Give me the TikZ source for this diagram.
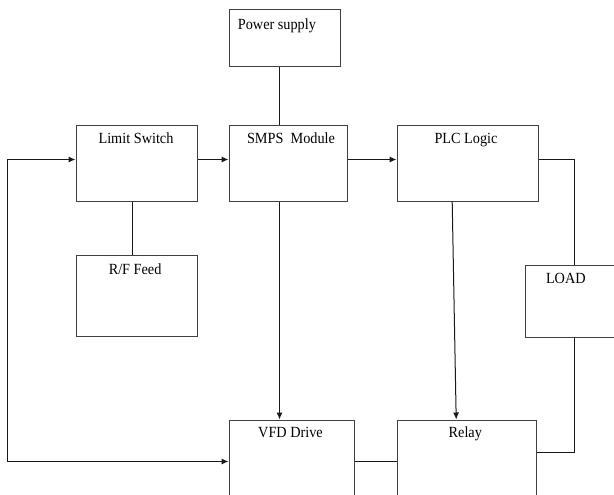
\documentclass[tikz,border=0pt]{standalone}
\usepackage{fontspec}
\setmainfont{Liberation Serif}[FakeStretch=0.92]
\usetikzlibrary{arrows.meta}
\tikzset{
  blk/.style={draw=black!75, line width=1pt, rectangle, inner sep=0pt, anchor=north west},
  lbl/.style={font=\fontsize{15.5}{17}\selectfont, anchor=base, inner sep=0pt, text=black},
  wire/.style={draw=black!90, line width=1pt},
  arr/.style={wire, -{Latex[length=7pt,width=6pt]}}
}
\begin{document}
\begin{tikzpicture}[x=1pt,y=-1pt]
\clip (0,0) rectangle (614,495);
\fill[white] (0,0) rectangle (614,495);
% boxes
\node[blk, minimum width=111pt, minimum height=57pt] (ps) at (228.5,9.5) {};
\node[blk, minimum width=121pt, minimum height=75pt] (ls) at (75.5,125.5) {};
\node[blk, minimum width=118pt, minimum height=75pt] (smps) at (228.5,125.5) {};
\node[blk, minimum width=141pt, minimum height=75pt] (plc) at (396.5,125.5) {};
\node[blk, minimum width=121pt, minimum height=81pt] (rf) at (75.5,254.5) {};
\node[blk, minimum width=100pt, minimum height=72pt] (load) at (524.5,264.5) {};
\node[blk, minimum width=125pt, minimum height=100pt] (vfd) at (228.5,419.5) {};
\node[blk, minimum width=139pt, minimum height=100pt] (relay) at (396.5,419.5) {};
% labels
\node[lbl, anchor=base west] (tps) at (237.7,29.8) {Power supply};
\node[lbl] (tls) at (136,143.3) {Limit Switch};
\node[lbl] (tsmps) at (291,143.3) {SMPS\ \ Module};
\node[lbl] (tplc) at (466,143.8) {PLC Logic};
\node[lbl] (trf) at (135.1,274.3) {R/F Feed};
\node[lbl] (tload) at (565.8,283.7) {LOAD};
\node[lbl] (tvfd) at (290.5,437.3) {VFD Drive};
\node[lbl] (trelay) at (465.3,437.3) {Relay};
% helper coordinates
\coordinate (lpA) at (7.5,159.5);
\coordinate (lpB) at (7.5,461.5);
\coordinate (rtA) at (574.5,159.5);
\coordinate (rtB) at (574.5,452.5);
% connectors
\draw[wire] (ps.south -| 279.5,0) -- (smps.north -| 279.5,0);
\draw[arr] (lpB) -- (lpA) -- (ls.west |- lpA);
\draw[arr] (lpB) -- (vfd.west |- lpB);
\draw[arr] (ls.east |- 0,159.5) -- (smps.west |- 0,159.5);
\draw[arr] (348,159.5) -- (plc.west |- 0,159.5);
\draw[wire] (plc.east |- rtA) -- (rtA) -- (load.north -| rtA);
\draw[wire] (load.south -| rtB) -- (rtB) -- (relay.east |- rtB);
\draw[wire] (ls.south -| 132.5,0) -- (rf.north -| 132.5,0);
\draw[arr] (smps.south -| 279.5,0) -- (vfd.north -| 279.5,0);
\draw[arr] (plc.south -| 452.2,0) -- (vfd.north -| 456.2,0);
\draw[wire] (vfd.east |- 0,461.5) -- (relay.west |- 0,461.5);
\end{tikzpicture}
\end{document}
